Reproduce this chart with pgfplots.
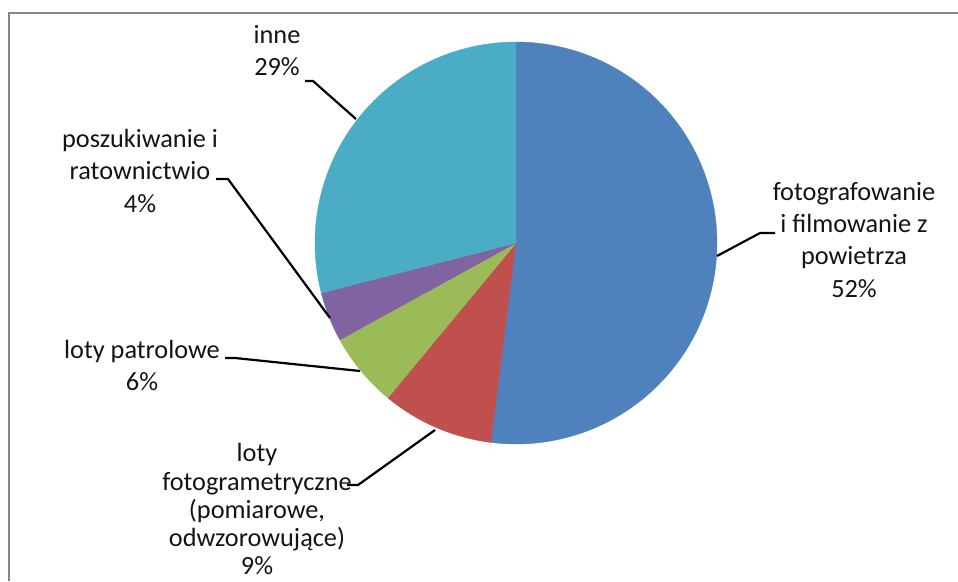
\documentclass[border=0pt]{standalone}
\usepackage{pgfplots}
\usepackage{pgfplotstable}
\pgfplotsset{compat=1.18}
\usepackage{fontspec}
\setmainfont{Carlito}
\definecolor{slice0}{RGB}{79,129,189}
\definecolor{slice1}{RGB}{192,80,77}
\definecolor{slice2}{RGB}{155,187,89}
\definecolor{slice3}{RGB}{128,100,162}
\definecolor{slice4}{RGB}{75,172,198}
\definecolor{framegray}{RGB}{134,134,134}
\definecolor{txt}{RGB}{20,20,20}

\pgfplotstableread{
idx value
0 52
1 9
2 6
3 4
4 29
}\piedata

\newcommand\lbl[3]{\node[anchor=base,inner sep=0pt,text=txt] at (axis cs:#1,#2) {#3};}

\begin{document}
\begin{tikzpicture}
\useasboundingbox (0,0) rectangle (958pt,581pt);
\begin{axis}[
  at={(0,0)}, anchor=south west,
  scale only axis, width=958pt, height=581pt,
  xmin=0, xmax=958, ymin=0, ymax=581, y dir=reverse,
  hide axis, clip=false,
]
\def\cum{0}
\pgfplotsforeachungrouped \i in {0,...,4}{%
  \pgfplotstablegetelem{\i}{value}\of\piedata
  \pgfmathsetmacro\angA{90-3.6*\cum}%
  \pgfmathsetmacro\newcum{\cum+\pgfplotsretval}%
  \pgfmathsetmacro\angB{90-3.6*\newcum}%
  \edef\temp{\noexpand\addplot[fill=slice\i, draw=slice\i, line width=0.4pt, mark=none, domain=\angB:\angA, samples=120] ({516+201*cos(x)},{243-201*sin(x)}) -- (axis cs:516,243) -- cycle;}%
  \temp
  \global\let\cum\newcum
}

% frame
\addplot[framegray, line width=2pt, mark=none] coordinates {(9,581) (9,13) (958,13)};

% leader lines
\addplot[black, line width=2.2pt, mark=none] coordinates {(305,81) (313,81) (356,119)};
\addplot[black, line width=2.2pt, mark=none] coordinates {(216,179) (228,179) (330,318)};
\addplot[black, line width=2.2pt, mark=none] coordinates {(225,358) (235,358) (360,371)};
\addplot[black, line width=2.2pt, mark=none] coordinates {(347,485) (358,485) (435,430)};
\addplot[black, line width=2.2pt, mark=none] coordinates {(717,256) (760,233) (775,233)};

\fontsize{26.3}{31.5}\selectfont
\lbl{277}{43}{inne}
\lbl{277}{75}{29\%}
\lbl{140}{147}{poszukiwanie i}
\lbl{140}{179}{ratownictwio}
\lbl{140}{212}{4\%}
\lbl{854}{200}{fotografowanie}
\lbl{854}{232}{i filmowanie z}
\lbl{854}{264}{powietrza}
\lbl{854}{297}{52\%}
\lbl{142}{358}{loty patrolowe}
\lbl{142}{390}{6\%}
\lbl{257}{461}{loty}
\lbl{257}{490}{fotogrametryczne}
\lbl{257}{518}{(pomiarowe,}
\lbl{257}{546}{odwzorowujące)}
\lbl{257}{574}{9\%}
\end{axis}
\end{tikzpicture}
\end{document}
